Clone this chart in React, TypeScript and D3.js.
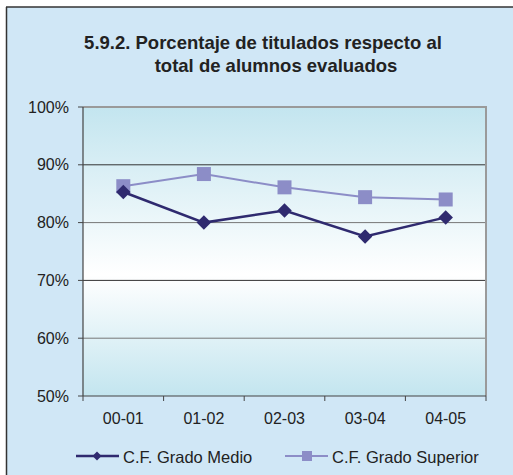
import React from 'react';
import * as d3 from 'd3';

const categories = ['00-01', '01-02', '02-03', '03-04', '04-05'];
const gradoMedio = [85.3, 80.0, 82.1, 77.6, 80.9];
const gradoSuperior = [86.3, 88.4, 86.1, 84.4, 84.0];
const yTicks = [50, 60, 70, 80, 90, 100];

const W = 513;
const H = 475;
const margin = { left: 83, right: 27, top: 107, bottom: 79 };
const navy = '#2f2a6f';
const lilac = '#8c8dc7';
const font = 'Liberation Sans, Arial, sans-serif';

const App = () => {
  const x = d3
    .scaleBand<string>()
    .domain(categories)
    .range([margin.left, W - margin.right]);
  const y = d3
    .scaleLinear()
    .domain([50, 100])
    .range([H - margin.bottom, margin.top]);

  const cx = (c: string) => (x(c) || 0) + x.bandwidth() / 2;
  const line = d3
    .line<number>()
    .x((_, i) => cx(categories[i]))
    .y((d) => y(d));

  // excel style diamond = square turned by 45 degrees
  const diamond = d3.symbol(d3.symbolSquare, 105)();
  const smallDiamond = d3.symbol(d3.symbolSquare, 40)();
  const x0 = margin.left;
  const x1 = W - margin.right;
  const yBot = y(50);
  const yTop = y(100);

  return (
    <svg
      width={W}
      height={H}
      style={{ position: 'absolute', left: 0, top: 0, fontFamily: font }}
    >
      <defs>
        <linearGradient id="plotBg" x1="0" y1="0" x2="0" y2="1">
          <stop offset="0" stopColor="#c3e5ef" />
          <stop offset="0.58" stopColor="#ffffff" />
          <stop offset="1" stopColor="#c3e5ef" />
        </linearGradient>
      </defs>
      <rect x={0} y={0} width={W} height={H} fill="#ffffff" />
      <rect x={7} y={7} width={W} height={H} fill="#d0e7f6" />
      <line x1={6.5} y1={7} x2={6.5} y2={H} stroke="#333" strokeWidth={1.5} />
      <line x1={6} y1={7} x2={W} y2={7} stroke="#333" strokeWidth={1.5} />

      <text x={263} y={49} textAnchor="middle" fontSize={18.5} fontWeight="bold" fill="#222">
        5.9.2. Porcentaje de titulados respecto al
      </text>
      <text x={276} y={72} textAnchor="middle" fontSize={18.5} fontWeight="bold" fill="#222">
        total de alumnos evaluados
      </text>

      <rect x={x0} y={yTop} width={x1 - x0} height={yBot - yTop} fill="url(#plotBg)" />
      {yTicks.slice(1, -1).map((t) => (
        <line
          key={t}
          x1={x0}
          x2={x1}
          y1={y(t)}
          y2={y(t)}
          stroke={t % 20 === 0 ? '#777' : '#333'}
          strokeWidth={1}
        />
      ))}
      <polyline
        points={`${x0},${yTop} ${x1},${yTop} ${x1},${yBot}`}
        fill="none"
        stroke="#9a9a9a"
        strokeWidth={2}
      />
      <line x1={x0} x2={x0} y1={yTop} y2={yBot} stroke="#444" strokeWidth={1.2} />
      <line x1={x0} x2={x1} y1={yBot} y2={yBot} stroke="#444" strokeWidth={1.2} />

      {yTicks.map((t) => (
        <g key={t}>
          <line x1={x0 - 5} x2={x0} y1={y(t)} y2={y(t)} stroke="#444" />
          <text x={69} y={y(t)} dy="0.35em" textAnchor="end" fontSize={16} fill="#222">
            {t}%
          </text>
        </g>
      ))}
      {[...categories.map((c) => x(c) || 0), x1].map((v, i) => (
        <line key={i} x1={v} x2={v} y1={yBot} y2={yBot + 5} stroke="#444" />
      ))}
      {categories.map((c) => (
        <text
          key={c}
          x={cx(c)}
          y={yBot + 22.5}
          dy="0.35em"
          textAnchor="middle"
          fontSize={16}
          fill="#222"
        >
          {c}
        </text>
      ))}

      <path d={line(gradoSuperior) || ''} fill="none" stroke={lilac} strokeWidth={2} />
      {gradoSuperior.map((v, i) => (
        <rect
          key={i}
          x={cx(categories[i]) - 7}
          y={y(v) - 7}
          width={14}
          height={14}
          fill={lilac}
        />
      ))}
      <path d={line(gradoMedio) || ''} fill="none" stroke={navy} strokeWidth={2.5} />
      {gradoMedio.map((v, i) => (
        <path
          key={i}
          d={diamond || ''}
          transform={`translate(${cx(categories[i])},${y(v)}) rotate(45)`}
          fill={navy}
        />
      ))}

      <g transform="translate(0,456)">
        <line x1={76} x2={119} y1={0} y2={0} stroke={navy} strokeWidth={2.5} />
        <path d={smallDiamond || ''} transform="translate(97,0) rotate(45)" fill={navy} />
        <text x={123} y={0} dy="0.42em" fontSize={16.5} fill="#222">
          C.F. Grado Medio
        </text>
        <line x1={285} x2={328} y1={0} y2={0} stroke={lilac} strokeWidth={2} />
        <rect x={302} y={-5} width={10} height={10} fill={lilac} />
        <text x={332} y={0} dy="0.42em" fontSize={16.5} fill="#222">
          C.F. Grado Superior
        </text>
      </g>
    </svg>
  );
};

export default App;
